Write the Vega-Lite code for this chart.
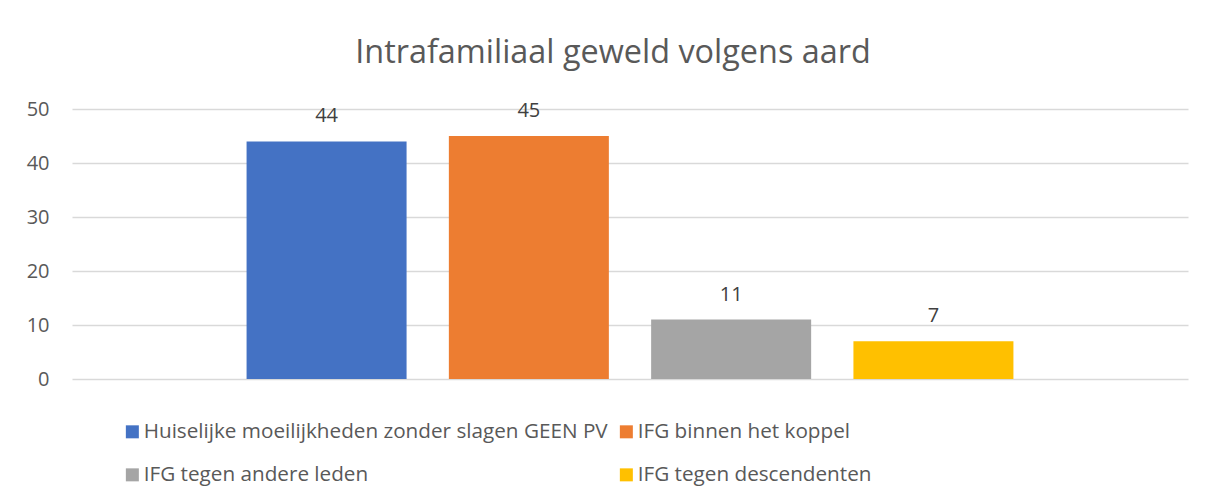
{
  "$schema": "https://vega.github.io/schema/vega-lite/v6.json",
  "width": 1116,
  "height": 270,
  "autosize": "none",
  "padding": {"left": 72, "top": 109, "right": 25, "bottom": 122},
  "background": "white",
  "config": {
    "font": "Open Sans",
    "view": {"stroke": null}
  },
  "title": {
    "text": "Intrafamiliaal geweld volgens aard",
    "fontSize": 32.4,
    "fontWeight": "normal",
    "color": "#595959",
    "anchor": "middle",
    "dx": -17,
    "offset": 30
  },
  "data": {
    "values": [
      {"aard": "Huiselijke moeilijkheden zonder slagen GEEN PV", "aantal": 44},
      {"aard": "IFG binnen het koppel", "aantal": 45},
      {"aard": "IFG tegen andere leden", "aantal": 11},
      {"aard": "IFG tegen descendenten", "aantal": 7}
    ]
  },
  "encoding": {
    "x": {
      "field": "aard",
      "type": "nominal",
      "sort": null,
      "scale": {"paddingInner": 0.209, "paddingOuter": 0.863},
      "axis": null
    },
    "y": {
      "field": "aantal",
      "type": "quantitative",
      "scale": {"domain": [0, 50], "nice": false},
      "axis": {
        "values": [0, 10, 20, 30, 40, 50],
        "title": null,
        "domain": false,
        "ticks": false,
        "labelPadding": 23,
        "labelFontSize": 20,
        "labelColor": "#595959",
        "gridColor": "#d9d9d9",
        "gridWidth": 1.3
      }
    }
  },
  "layer": [
    {
      "mark": {"type": "bar"},
      "encoding": {
        "color": {
          "field": "aard",
          "type": "nominal",
          "scale": {
            "domain": ["Huiselijke moeilijkheden zonder slagen GEEN PV", "IFG tegen andere leden", "IFG binnen het koppel", "IFG tegen descendenten"],
            "range": ["#4472C4", "#A5A5A5", "#ED7D31", "#FFC000"]
          },
          "legend": {
            "title": null,
            "orient": "none",
            "legendX": 50,
            "legendY": 312,
            "padding": 0,
            "columns": 2,
            "columnPadding": 8,
            "rowPadding": 21.5,
            "symbolType": "square",
            "symbolSize": 169,
            "symbolStrokeWidth": 0,
            "labelOffset": 1,
            "labelFontSize": 20.7,
            "labelColor": "#595959",
            "labelLimit": 0
          }
        }
      }
    },
    {
      "mark": {"type": "text", "baseline": "alphabetic", "dy": -19, "fontSize": 20, "color": "#404040"},
      "encoding": {
        "text": {"field": "aantal", "type": "quantitative"}
      }
    }
  ]
}
